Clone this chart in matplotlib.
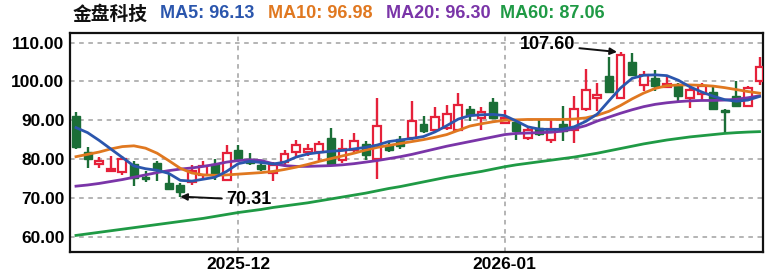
import pandas as pd
import numpy as np
import matplotlib
matplotlib.use("Agg")
import matplotlib.pyplot as plt

# trading days shown (New Year holiday removed)
dates = [d for d in pd.bdate_range("2025-11-11", "2026-02-04")
         if d not in (pd.Timestamp("2026-01-01"), pd.Timestamp("2026-01-02"))]

opens  = [91.1, 81.9, 78.6, 77.0, 76.6, 78.8, 75.4, 78.9, 73.7, 73.3,
          74.0, 75.8, 78.6, 74.5, 82.2, 80.0, 78.5, 76.3, 79.2, 81.8,
          81.9, 81.8, 85.5, 79.7, 82.2, 83.8, 80.0, 83.7, 85.2, 85.5,
          88.9, 87.6, 88.0, 87.6, 92.9, 90.7, 94.6, 89.4, 89.5, 85.5,
          88.0, 85.0, 88.9, 87.6, 92.8, 95.8, 101.3, 95.7, 105.1, 99.2,
          100.8, 98.6, 99.1, 95.8, 96.8, 97.4, 92.6, 96.2, 93.6, 100.0]
highs  = [92.0, 83.0, 80.4, 80.8, 80.8, 79.5, 76.9, 79.5, 76.5, 73.8,
          78.5, 79.5, 80.0, 83.5, 83.5, 81.5, 79.0, 79.3, 82.4, 84.8,
          83.8, 84.7, 88.0, 85.2, 86.6, 84.6, 95.8, 84.3, 86.0, 95.0,
          91.2, 93.4, 93.8, 97.0, 93.6, 93.4, 95.7, 92.7, 90.2, 88.5,
          90.2, 90.2, 93.6, 96.2, 103.2, 99.5, 106.4, 107.6, 107.4, 102.6,
          103.0, 101.3, 99.6, 98.3, 99.6, 98.5, 93.0, 100.0, 98.7, 106.4]
lows   = [82.6, 77.6, 77.7, 76.8, 76.0, 73.1, 74.0, 74.3, 72.2, 70.31,
          73.4, 75.0, 74.6, 74.3, 79.2, 78.4, 76.8, 74.3, 78.3, 80.9,
          80.8, 79.2, 78.3, 79.1, 81.3, 79.8, 74.9, 81.7, 82.6, 85.0,
          86.8, 87.2, 87.6, 87.2, 89.8, 87.6, 90.2, 89.1, 85.0, 85.0,
          85.9, 84.2, 84.6, 84.2, 92.3, 92.4, 97.0, 95.5, 101.3, 97.5,
          97.5, 98.3, 94.9, 93.2, 94.9, 92.6, 86.8, 93.4, 93.4, 99.1]
closes = [83.0, 79.9, 79.5, 77.5, 80.0, 75.2, 74.9, 77.2, 72.3, 71.6,
          77.0, 78.2, 75.8, 81.5, 80.0, 79.0, 77.3, 78.5, 81.2, 83.5,
          82.5, 83.8, 78.8, 82.6, 84.6, 81.0, 88.5, 82.2, 83.3, 89.8,
          87.3, 90.9, 91.5, 94.0, 91.3, 92.2, 90.7, 90.5, 87.3, 87.6,
          86.4, 87.7, 87.3, 92.9, 97.9, 96.5, 97.2, 106.8, 101.7, 101.7,
          98.8, 99.4, 96.2, 97.9, 98.7, 92.8, 92.0, 93.6, 98.3, 103.8]

ma5  = [88.1, 86.8, 84.8, 82.6, 80.4, 78.2, 77.5, 77.1, 76.3, 74.5,
        74.3, 74.8, 75.3, 76.8, 78.8, 79.4, 79.1, 78.7, 79.2, 80.5,
        81.3, 81.7, 82.0, 82.2, 82.6, 83.0, 83.6, 84.5, 84.9, 85.3,
        85.8, 87.0, 88.6, 90.3, 91.2, 91.4, 91.5, 91.2, 89.8, 88.3,
        87.7, 87.6, 87.7, 88.3, 89.7, 91.6, 95.0, 98.3, 100.8, 101.6,
        101.7, 101.5, 100.3, 98.6, 97.3, 96.2, 95.3, 94.9, 95.2, 96.13]
ma10 = [80.6, 81.2, 81.8, 82.6, 83.2, 83.4, 82.8, 81.5, 79.6, 77.6,
        76.4, 75.9, 75.8, 75.9, 76.1, 76.3, 76.5, 76.8, 77.3, 77.9,
        78.6, 79.4, 80.1, 80.8, 81.5, 82.3, 83.0, 83.5, 84.0, 84.5,
        85.0, 85.6, 86.3, 87.4, 88.5, 89.1, 89.6, 90.0, 90.1, 90.2,
        90.2, 90.2, 90.2, 90.3, 90.6, 91.3, 92.3, 93.8, 95.5, 97.0,
        98.2, 98.9, 99.1, 99.1, 99.0, 98.8, 98.4, 97.9, 97.4, 96.98]
ma20 = [73.0, 73.3, 73.7, 74.2, 74.7, 75.3, 75.9, 76.5, 77.0, 77.4,
        77.7, 78.1, 78.6, 79.2, 79.6, 79.8, 79.6, 78.8, 78.3, 78.1,
        78.1, 78.2, 78.3, 78.5, 78.8, 79.2, 79.6, 80.1, 80.6, 81.2,
        81.9, 82.6, 83.3, 83.9, 84.5, 85.1, 85.7, 86.3, 86.6, 86.7,
        86.8, 86.9, 87.2, 87.8, 88.6, 89.8, 90.8, 91.8, 92.7, 93.5,
        94.1, 94.5, 94.8, 95.0, 95.1, 95.1, 95.2, 95.4, 95.8, 96.30]
ma60 = [60.3, 60.7, 61.1, 61.5, 61.9, 62.3, 62.7, 63.1, 63.5, 63.9,
        64.3, 64.7, 65.2, 65.7, 66.2, 66.6, 67.0, 67.5, 67.9, 68.3,
        68.7, 69.2, 69.7, 70.2, 70.7, 71.2, 71.8, 72.4, 72.9, 73.5,
        74.1, 74.7, 75.3, 75.8, 76.3, 76.8, 77.4, 78.0, 78.5, 78.9,
        79.3, 79.7, 80.1, 80.5, 81.0, 81.5, 82.1, 82.7, 83.3, 83.9,
        84.4, 84.9, 85.3, 85.7, 86.0, 86.3, 86.6, 86.8, 86.95, 87.06]

name = "金盘科技"
ma_labels = ["MA5: 96.13", "MA10: 96.98", "MA20: 96.30", "MA60: 87.06"]
ma_colors = ["#2b56ad", "#e07820", "#7a35a8", "#1f9a45"]
up_color, down_color = "#e5213a", "#1b6e37"

plt.rcParams['font.family'] = ['Liberation Sans', 'Noto Sans CJK SC', 'DejaVu Sans']
plt.rcParams['font.weight'] = 'bold'

fig = plt.figure(figsize=(7.68, 2.78), dpi=100)
ax = fig.add_axes([0.0911, 0.0946, 0.9024, 0.7854])

x = np.arange(len(dates))
o, h, l, c = map(np.array, (opens, highs, lows, closes))
up = c >= o

# wicks
ax.vlines(x[up], l[up], h[up], color=up_color, lw=1.7, zorder=2)
ax.vlines(x[~up], l[~up], h[~up], color=down_color, lw=1.7, zorder=2)
# bodies
body_lo = np.minimum(o, c)
body_h = np.maximum(np.abs(c - o), 0.35)
ax.bar(x[up], body_h[up], bottom=body_lo[up], width=0.68,
       facecolor="white", edgecolor=up_color, linewidth=1.6, zorder=3)
ax.bar(x[~up], body_h[~up], bottom=body_lo[~up], width=0.68,
       facecolor=down_color, edgecolor=down_color, linewidth=1.0, zorder=3)

for vals, col in zip([ma60, ma20, ma10, ma5], ma_colors[::-1]):
    ax.plot(x, vals, color=col, lw=2.0, zorder=4)

# month ticks
month_idx = [i for i in range(1, len(dates)) if dates[i].month != dates[i - 1].month
             and dates[i].month in (12, 1)]
ax.set_xticks(month_idx)
ax.set_xticklabels([dates[i].strftime("%Y-%m") for i in month_idx], fontsize=12.5)
ax.set_yticks([60, 70, 80, 90, 100, 110])
ax.set_yticklabels(["%.2f" % v for v in [60, 70, 80, 90, 100, 110]], fontsize=12.5)
ax.tick_params(length=0, pad=4)
ax.set_xlim(-0.52, 59.3)
ax.set_ylim(56.1, 112.4)
ax.grid(True, color="#a0a0a0", ls=(0, (3, 3)), lw=1.1)
ax.set_axisbelow(True)
for s in ax.spines.values():
    s.set_linewidth(1.6)
    s.set_color("#111111")

imax = int(np.argmax(h))
imin = int(np.argmin(l))
ax.annotate("%.2f" % h[imax], xy=(imax - 0.3, h[imax]), xytext=(40.7, 109.4),
            ha="center", va="center", fontsize=13, zorder=6,
            arrowprops=dict(arrowstyle="-|>", color="#111111", lw=1.4,
                            mutation_scale=10, shrinkA=1, shrinkB=0))
ax.annotate("%.2f" % l[imin], xy=(imin, l[imin]), xytext=(14.9, 69.5),
            ha="center", va="center", fontsize=13, zorder=6,
            arrowprops=dict(arrowstyle="-|>", color="#111111", lw=1.4,
                            mutation_scale=10, shrinkA=1, shrinkB=0))

# header line
fig.text(73 / 768, 1 - 14 / 278, name, color="#111111", fontsize=13.5,
         ha="left", va="center", family=['Noto Sans CJK SC'], weight='bold')
for xp, txt, col in zip([160, 268, 386, 500], ma_labels, ma_colors):
    fig.text(xp / 768, 1 - 14 / 278, txt, color=col, fontsize=13,
             ha="left", va="center")

fig.savefig("out.png", dpi=100)
